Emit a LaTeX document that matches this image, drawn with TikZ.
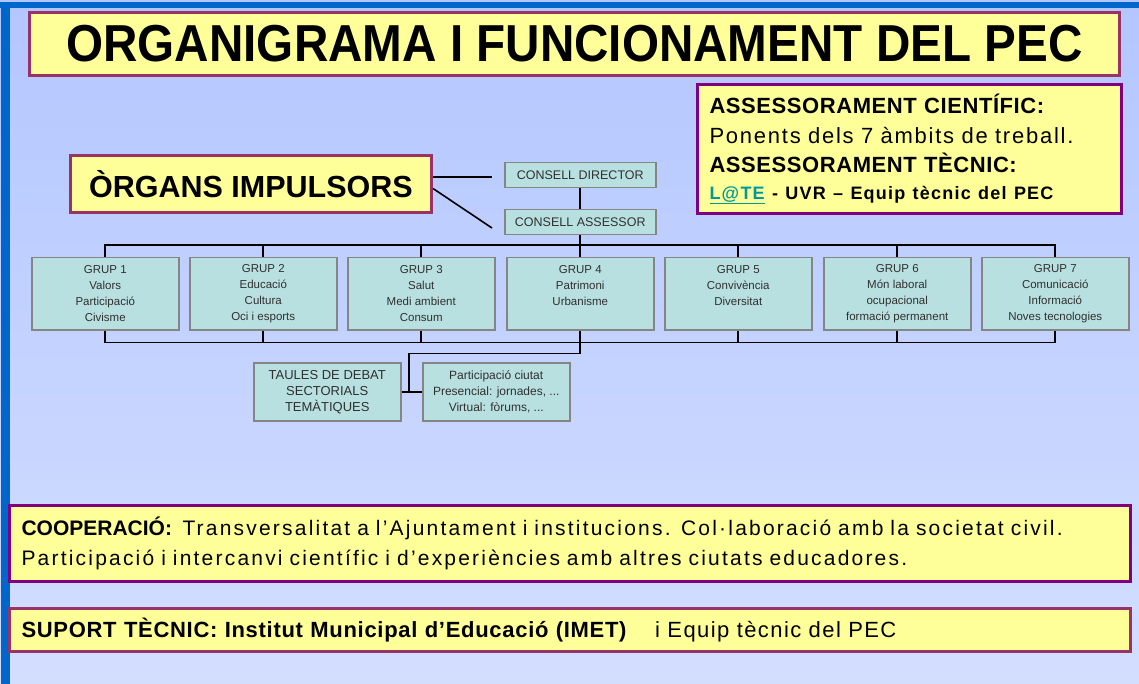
\documentclass[tikz,border=0pt]{standalone}
\usepackage{fontspec}
\usepackage{graphicx}
\setmainfont{Liberation Sans}
\usepackage{tikz}

\definecolor{paleyellow}{HTML}{FFFF99}
\definecolor{maroonline}{HTML}{993366}
\definecolor{purpleline}{HTML}{800080}
\definecolor{palecyan}{HTML}{B9E0E0}
\definecolor{boxgray}{HTML}{858585}
\definecolor{boxtext}{HTML}{303030}
\definecolor{linkteal}{HTML}{009999}
\definecolor{frameblue}{HTML}{0066CC}
\definecolor{bgtop}{HTML}{B3C6FF}
\definecolor{bgbottom}{HTML}{D3DEFF}

\newcommand{\spaced}[2]{{\addfontfeature{LetterSpace=#1}#2}}

\begin{document}
\begin{tikzpicture}[x=1pt, y=-1pt,
  every node/.style={inner sep=0pt},
  yellowbox/.style={draw=#1, line width=3pt, fill=paleyellow, anchor=north west},
  orgbox/.style={draw=boxgray, line width=1.5pt, fill=palecyan, text=boxtext, anchor=north west, align=center},
  grupbox/.style={orgbox, minimum width=147pt, minimum height=72pt, font=\fontsize{11.5}{16}\selectfont},
  link/.style={line width=1.6pt, black}]
	\useasboundingbox (0,0) rectangle (1139,684);
	\shade[top color=bgtop, bottom color=bgbottom] (0,0) rectangle (1139,684);
	\fill[frameblue] (0,2) rectangle (1139,8);
	\fill[frameblue] (1,2) rectangle (10,684);
	% title and side boxes
	\node[yellowbox=maroonline, minimum width=1090pt, minimum height=63pt] (title) at (28,11)
	  {\scalebox{0.916}[1]{\fontsize{52}{52}\selectfont\bfseries ORGANIGRAMA I FUNCIONAMENT DEL PEC}\hspace{10pt}};
	\node[yellowbox=purpleline, minimum width=424pt, minimum height=129pt, text width=400pt, inner xsep=12pt, align=left,
	  font=\fontsize{22}{29.5}\selectfont] (assess) at (696,83)
	  {\textbf{\spaced{2.6}{ASSESSORAMENT CIENTÍFIC:}}\\\spaced{8}{Ponents dels 7 àmbits de treball.}\\
	   \textbf{\spaced{2.6}{ASSESSORAMENT TÈCNIC:}}\\[-3pt]
	   {\fontsize{18}{20}\selectfont\bfseries\addfontfeature{LetterSpace=6.8}\textcolor{linkteal}{\underline{L@TE}} - UVR – Equip tècnic del PEC}};
	\node[yellowbox=maroonline, minimum width=361pt, minimum height=57pt, font=\fontsize{30.5}{30}\selectfont\bfseries] (organs) at (69,154) {ÒRGANS IMPULSORS\hspace{10pt}};
	% councils
	\node[orgbox, minimum width=151pt, minimum height=25pt, font=\fontsize{12.5}{14}\selectfont] (director) at (504,162) {CONSELL DIRECTOR};
	\node[orgbox, minimum width=151pt, minimum height=25pt, font=\fontsize{12.5}{14}\selectfont] (assessor) at (504,209) {CONSELL ASSESSOR};
	% groups
	\node[grupbox] (g1) at (31,257) {GRUP 1\\Valors\\Participació\\Civisme};
	\node[grupbox] (g2) at (189,257) {GRUP 2\\Educació\\Cultura\\Oci i esports};
	\node[grupbox] (g3) at (347,257) {GRUP 3\\Salut\\Medi ambient\\Consum};
	\node[grupbox] (g4) at (506,257) {GRUP 4\\Patrimoni\\Urbanisme\\~};
	\node[grupbox] (g5) at (664,257) {GRUP 5\\Convivència\\Diversitat\\~};
	\node[grupbox] (g6) at (823,257) {GRUP 6\\Món laboral\\ocupacional\\formació permanent};
	\node[grupbox] (g7) at (981,257) {GRUP 7\\Comunicació\\Informació\\Noves tecnologies};
	% debate tables
	\node[orgbox, minimum width=147pt, minimum height=58pt, font=\fontsize{13}{16}\selectfont] (taules) at (253,362) {TAULES DE DEBAT\\SECTORIALS\\TEMÀTIQUES};
	\node[orgbox, minimum width=147pt, minimum height=58pt, font=\fontsize{12}{16}\selectfont] (particip) at (422,362) {Participació ciutat\\Presencial: jornades, ...\\Virtual: fòrums, ...};
	% connectors
	\coordinate (dirend) at (492,177);
	\coordinate (assend) at (492,228);
	\coordinate (split) at (409,391);
	\draw[link] (organs.east |- dirend) -- (dirend);
	\draw[link] ([yshift=-4.5pt]organs.east) -- (assend);
	\draw[link] (director) -- (assessor);
	\draw[link] (assessor.south) -- (assessor.south |- g4.north);
	\draw[link] (g1.north) -- ++(0,-12) -| (g7.north);
	\draw[link] (g1.south) -- ++(0,12) -| (g7.south);
	\foreach \g in {g2,g3,g4,g5,g6} {
	  \draw[link] (\g.north) -- ++(0,-12);
	  \draw[link] (\g.south) -- ++(0,12);
	}
	\draw[link] (g4.south) -- ++(0,23) -| (split);
	\draw[link] (taules.east) -- (particip.west);
	% bottom boxes
	\node[yellowbox=purpleline, minimum width=1121pt, minimum height=76pt, text width=1097pt, inner xsep=12pt, align=left,
	  font=\fontsize{21}{30}\selectfont] (coop) at (8,504)
	  {\textbf{COOPERACIÓ:}\enspace\spaced{10.5}{Transversalitat a l’Ajuntament i institucions. Col·laboració amb la societat civil.}\\
	   \spaced{10.5}{Participació i intercanvi científic i d’experiències amb altres ciutats educadores.}};
	\node[yellowbox=maroonline, minimum width=1121pt, minimum height=43pt, text width=1097pt, inner xsep=12pt, align=left,
	  font=\fontsize{22}{24}\selectfont] (suport) at (8,607)
	  {\textbf{\spaced{3.2}{SUPORT TÈCNIC: Institut Municipal d’Educació (IMET)}}\hspace{28pt}\spaced{6.5}{i Equip tècnic del PEC}};
\end{tikzpicture}
\end{document}
